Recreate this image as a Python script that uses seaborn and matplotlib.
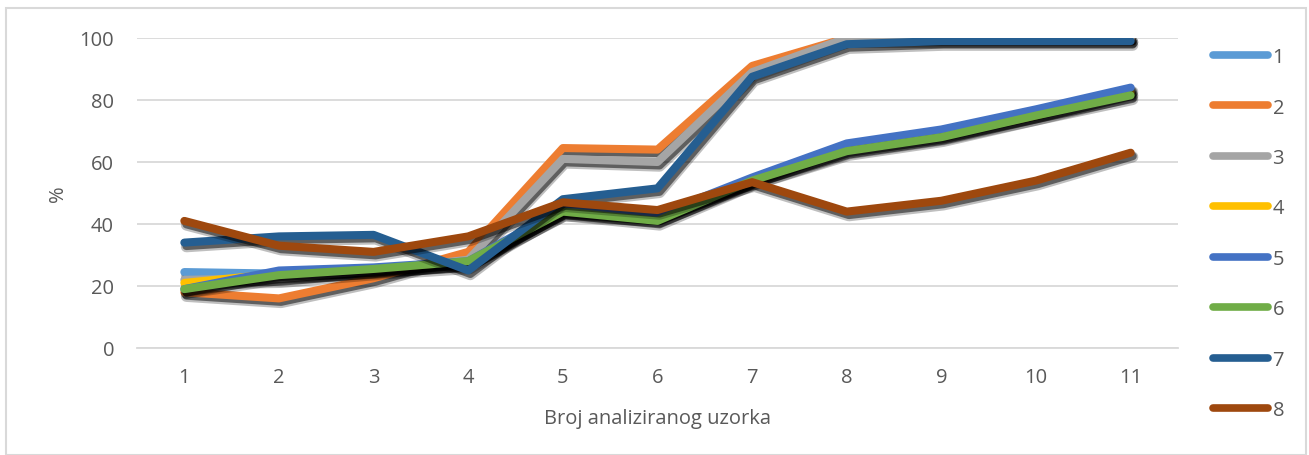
import numpy as np
import pandas as pd
import matplotlib
matplotlib.use('Agg')
import matplotlib.pyplot as plt
import matplotlib.patheffects as pe
from matplotlib.lines import Line2D
import seaborn as sns

# ---------------------------------------------------------------
# data
# ---------------------------------------------------------------
uzorak = [1, 2, 3, 4, 5, 6, 7, 8, 9, 10, 11]

s1 = [24.5, 24, 25, 27, 44.5, 42, 54.5, 65, 69, 76, 83]
s2 = [18, 16, 22.5, 31, 64.5, 64, 91, 100, 100, 100, 100]
s3 = [22, 22.5, 25, 28.5, 61, 60, 89, 100, 100, 100, 100]
s4 = [21, 24, 25.5, 28, 44, 42, 54, 64, 68.5, 75, 82.5]
s5 = [19, 25, 26, 28, 45, 43, 55, 66, 70.5, 77, 84]
s6 = [19, 23.5, 25.5, 28, 44, 41, 54, 63.5, 68, 75, 81.5]
s7 = [34, 36, 36.5, 25, 48, 51.5, 87.5, 98, 99, 99, 99]
s8 = [41, 33, 31, 36, 47, 44.5, 53.5, 44, 47.5, 54, 63]

serije = ['1', '2', '3', '4', '5', '6', '7', '8']
boje = ['#5B9BD5', '#ED7D31', '#A5A5A5', '#FFC000',
        '#4472C4', '#70AD47', '#255E91', '#9E480E']

rows = []
for name, vals in zip(serije, [s1, s2, s3, s4, s5, s6, s7, s8]):
    for x, v in zip(uzorak, vals):
        rows.append({'uzorak': x, 'postotak': v, 'serija': name})
df = pd.DataFrame(rows)

# ---------------------------------------------------------------
# plot
# ---------------------------------------------------------------
sns.set_theme(style='white')
plt.rcParams['font.family'] = ['Open Sans', 'DejaVu Sans']
fs = 14.5

fig = plt.figure(figsize=(13.09, 4.56), dpi=100)
ax = fig.add_axes([137 / 1309, 1 - 349 / 456, (1178 - 137) / 1309, (349 - 39) / 456])

sns.lineplot(data=df, x='uzorak', y='postotak', hue='serija',
             palette=dict(zip(serije, boje)), hue_order=serije,
             linewidth=5.8, ax=ax, legend=False, sort=False)

# Excel-like soft shadow under each line
for line in ax.get_lines():
    line.set_solid_capstyle('round')
    line.set_solid_joinstyle('round')
    line.set_path_effects([
        pe.SimpleLineShadow(offset=(1.5, -3), shadow_color='black', alpha=0.25, linewidth=8),
        pe.SimpleLineShadow(offset=(1.5, -2.5), shadow_color='black', alpha=0.5),
        pe.Normal()])

ax.set_xlim(0.5, 11.5)
ax.set_ylim(0, 100)
ax.set_xticks(uzorak)
ax.set_yticks([0, 20, 40, 60, 80, 100])
ax.grid(axis='y', color='#D9D9D9', linewidth=1.3)
ax.set_axisbelow(True)
for side in ['top', 'right', 'left']:
    ax.spines[side].set_visible(False)
ax.spines['bottom'].set_color('#D9D9D9')
ax.spines['bottom'].set_linewidth(1.3)
ax.tick_params(axis='both', length=0, labelsize=fs, labelcolor='#595959')
ax.tick_params(axis='x', pad=14)
ax.tick_params(axis='y', pad=16.5)

ax.set_xlabel('Broj analiziranog uzorka', fontsize=fs, color='#595959', labelpad=15)
ax.set_ylabel('%', fontsize=fs, color='#595959', labelpad=8)

handles = [Line2D([], [], color=c, linewidth=5.5, solid_capstyle='round') for c in boje]
fig.legend(handles, serije, loc='upper left', bbox_to_anchor=(1195 / 1309, 1 - 30 / 456),
           frameon=False, fontsize=fs, handlelength=2.7, handletextpad=0.25,
           labelspacing=1.51, labelcolor='#595959')

# light frame around the chart
fig.patches.append(plt.Rectangle((6 / 1309, 0.0), 1 - 6 / 1309 - 0.002, 1 - 9 / 456,
                                 transform=fig.transFigure, fill=False,
                                 edgecolor='#D9D9D9', linewidth=1.5))

fig.savefig('out.png', dpi=100)
